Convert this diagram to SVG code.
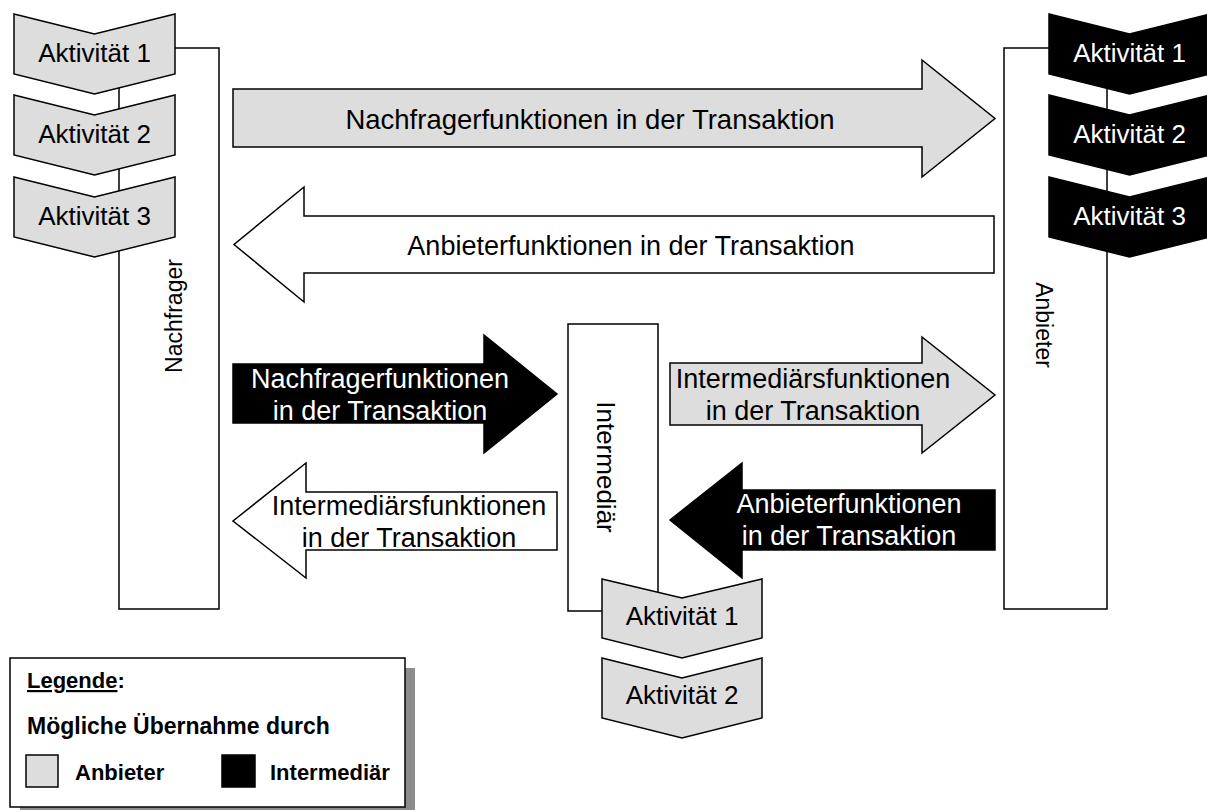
<svg xmlns="http://www.w3.org/2000/svg" width="1207" height="810" viewBox="0 0 1207 810">
<style>
text{font-family:"Liberation Sans",Arial,sans-serif;}
.box{fill:#fff;stroke:#000;stroke-width:1.5;}
.g{fill:#dddddd;stroke:#000;stroke-width:1.5;stroke-linejoin:miter;}
.b{fill:#000;stroke:#000;stroke-width:1.5;}
.w{fill:#fff;stroke:#000;stroke-width:1.5;}
.t{font-size:27px;fill:#000;text-anchor:middle;}
.tw{font-size:27px;fill:#fff;text-anchor:middle;}
.act{font-size:26px;text-anchor:middle;}
.rot{font-size:23px;fill:#000;text-anchor:middle;}
.lg{font-size:22px;font-weight:bold;fill:#000;}
</style>
<rect width="1207" height="810" fill="#fff"/>

<g id="nachfrager">
<rect class="box" x="119" y="48" width="100" height="561"/>
<text class="rot" transform="translate(182,316) rotate(-90)">Nachfrager</text>
</g>
<g id="anbieter">
<rect class="box" x="1004" y="48" width="103" height="561"/>
<text class="rot" transform="translate(1036,325) rotate(90)">Anbieter</text>
</g>
<g id="intermediaer">
<rect class="box" x="568" y="324" width="90" height="287"/>
<text class="rot" style="font-size:26px" transform="translate(597,467) rotate(90)">Intermediär</text>
</g>

<g id="n-akt1"><path class="g" d="M14,14 L94.5,34 L175,14 V74 L94.5,94 L14,74 Z"/><text class="act" x="94.5" y="62">Aktivität 1</text></g>
<g id="n-akt2"><path class="g" d="M14,95 L94.5,115 L175,95 V155 L94.5,175 L14,155 Z"/><text class="act" x="94.5" y="143">Aktivität 2</text></g>
<g id="n-akt3"><path class="g" d="M14,177 L94.5,197 L175,177 V237 L94.5,257 L14,237 Z"/><text class="act" x="94.5" y="225">Aktivität 3</text></g>

<g id="a-akt1"><path class="b" d="M1049,14 L1129.5,34 L1210,14 V74 L1129.5,94 L1049,74 Z"/><text class="act" fill="#fff" x="1129.5" y="62">Aktivität 1</text></g>
<g id="a-akt2"><path class="b" d="M1049,95 L1129.5,115 L1210,95 V155 L1129.5,175 L1049,155 Z"/><text class="act" fill="#fff" x="1129.5" y="143">Aktivität 2</text></g>
<g id="a-akt3"><path class="b" d="M1049,177 L1129.5,197 L1210,177 V237 L1129.5,257 L1049,237 Z"/><text class="act" fill="#fff" x="1129.5" y="225">Aktivität 3</text></g>

<g id="i-akt1"><path class="g" d="M602,579 L682,598 L762,579 V638 L682,658 L602,638 Z"/><text class="act" x="682" y="625">Aktivität 1</text></g>
<g id="i-akt2"><path class="g" d="M602,658 L682,678 L762,658 V718 L682,738 L602,718 Z"/><text class="act" x="682" y="704">Aktivität 2</text></g>

<g id="connectors">
<g id="arrow-nachfrager-top">
<path class="g" d="M233,89 H922 V60 L995,118.5 L922,177 V147 H233 Z"/>
<text class="t" style="font-size:27.5px" x="590" y="129">Nachfragerfunktionen in der Transaktion</text>
</g>
<g id="arrow-anbieter-top">
<path class="w" d="M994,216 H304 V187 L234,244.5 L304,302 V273 H994 Z"/>
<text class="t" x="631" y="255">Anbieterfunktionen in der Transaktion</text>
</g>
<g id="arrow-nachfrager-mid">
<path class="b" d="M233,364 H484 V335 L557,394 L484,453 V423 H233 Z"/>
<text class="tw" x="380" y="388">Nachfragerfunktionen</text>
<text class="tw" x="380" y="420">in der Transaktion</text>
</g>
<g id="arrow-intermediaer-left">
<path class="w" d="M557,492 H306 V463 L233,521 L306,578 V550 H557 Z"/>
<text class="t" x="409" y="515">Intermediärsfunktionen</text>
<text class="t" x="409" y="547">in der Transaktion</text>
</g>
<g id="arrow-intermediaer-right">
<path class="g" d="M670,363 H922 V337 L995,395 L922,453 V425 H670 Z"/>
<text class="t" x="813" y="388">Intermediärsfunktionen</text>
<text class="t" x="813" y="420">in der Transaktion</text>
</g>
<g id="arrow-anbieter-mid">
<path class="b" d="M995,490 H742 V463 L670,520 L742,578 V550 H995 Z"/>
<text class="tw" x="849" y="513">Anbieterfunktionen</text>
<text class="tw" x="849" y="545">in der Transaktion</text>
</g>
</g>

<g id="legend">
<rect x="20" y="668" width="395" height="149" fill="#8c8c8c"/>
<rect class="box" x="10" y="658" width="395" height="149"/>
<text class="lg" x="27" y="688"><tspan text-decoration="underline">Legende</tspan>:</text>
<text class="lg" style="font-size:23px" x="27" y="734">Mögliche Übernahme durch</text>
<rect x="26" y="755" width="32" height="32" fill="#dddddd" stroke="#000" stroke-width="1.5"/>
<text class="lg" x="75" y="780">Anbieter</text>
<rect x="222" y="755" width="33" height="32" fill="#000" stroke="#000" stroke-width="1.5"/>
<text class="lg" x="270" y="780">Intermediär</text>
</g>
</svg>
